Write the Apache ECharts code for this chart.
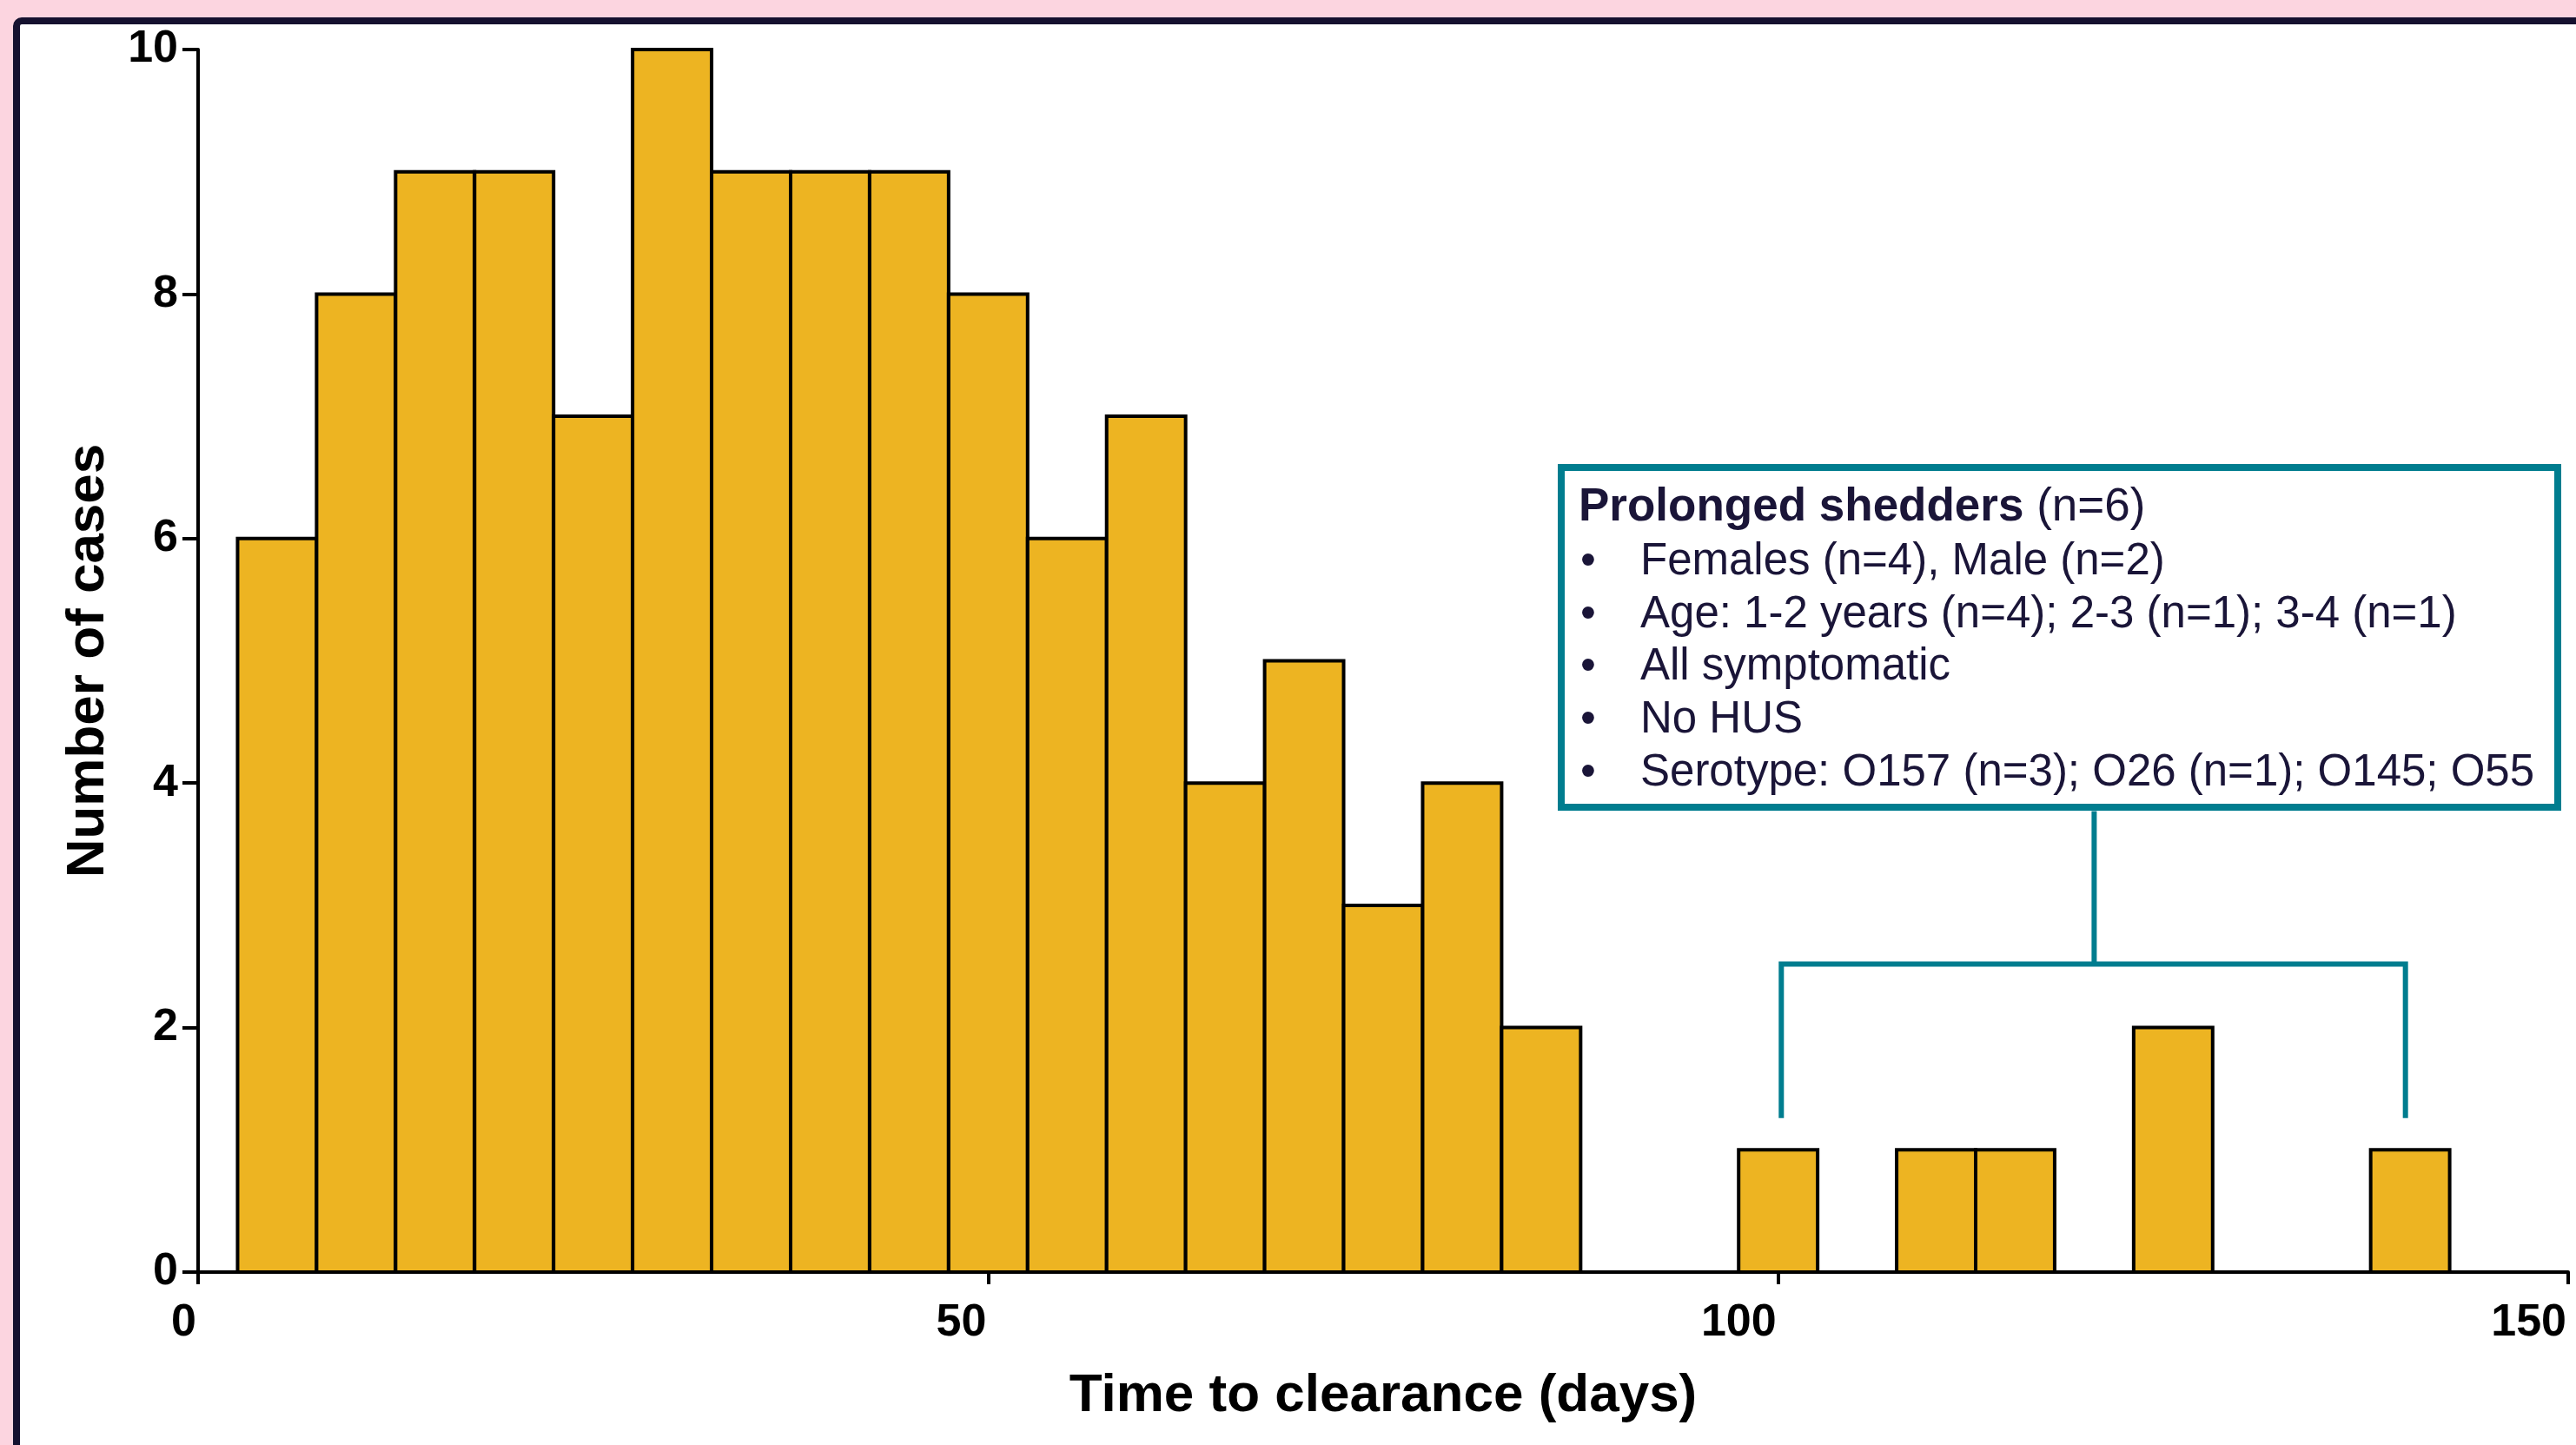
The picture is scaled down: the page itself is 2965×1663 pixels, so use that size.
<!DOCTYPE html>
<html>
<head>
<meta charset="utf-8">
<script src="https://cdn.jsdelivr.net/npm/echarts@6/dist/echarts.min.js"></script>
<style>
  html, body { margin: 0; padding: 0; width: 2965px; height: 1663px; overflow: hidden; background: #FCD5E0; }
  #frame { position: absolute; left: 15px; top: 20px; width: 3100px; height: 1800px;
           border: 8px solid #15112F; border-radius: 10px; background: #ffffff; box-sizing: border-box; }
  #chart { position: absolute; left: 0; top: 0; width: 2965px; height: 1663px; }
</style>
</head>
<body>
<div id="frame"></div>
<div id="chart"></div>
<script>
// ---- data ----
const binCenters = [5, 10, 15, 20, 25, 30, 35, 40, 45, 50, 55, 60, 65, 70, 75, 80, 85, 90, 95, 100, 105, 110, 115, 120, 125, 130, 135, 140, 145];
const caseCounts = [6, 8, 9, 9, 7, 10, 9, 9, 9, 8, 6, 7, 4, 5, 3, 4, 2, 0, 0, 1, 0, 1, 1, 0, 2, 0, 0, 1, 0];
const binWidth = 5;
const xTicks = [0, 50, 100, 150];
const yTicks = [0, 2, 4, 6, 8, 10];

// ---- annotation (bracket in data units, box text) ----
const bracketLegsX = [100.2, 139.7];
const bracketStemX = 120;
const bracketTopY = 2.52;
const bracketFootY = 1.26;
const boxBottomY = 3.77;
const boxTitleBold = 'Prolonged shedders';
const boxTitleRest = ' (n=6)';
const boxBullets = [
  'Females (n=4), Male (n=2)',
  'Age: 1-2 years (n=4); 2-3 (n=1); 3-4 (n=1)',
  'All symptomatic',
  'No HUS',
  'Serotype: O157 (n=3); O26 (n=1); O145; O55'
];

const BAR_FILL = '#EDB422';
const TEAL = '#007D8F';
const NAVY = '#1A1538';
const AXIS_FONT = "'Liberation Sans', Arial, sans-serif";
const TITLE_FONT = "'Liberation Sans', Arial, sans-serif";

const barData = [];
binCenters.forEach((c, i) => { if (caseCounts[i] > 0) barData.push([c, caseCounts[i]]); });

const chart = echarts.init(document.getElementById('chart'), null, { renderer: 'canvas' });

// text box graphic
const boxLeft = 1793, boxTop = 534, boxRight = 2948, boxBottom = 933, boxStroke = 8;
const lineBase0 = 601, lineStep = 60.8, fs = 51, fsTitle = 53;
const boxChildren = [
  { type: 'rect', shape: { x: boxLeft + boxStroke / 2, y: boxTop + boxStroke / 2,
      width: boxRight - boxLeft - boxStroke, height: boxBottom - boxTop - boxStroke },
    style: { fill: '#ffffff', stroke: TEAL, lineWidth: boxStroke }, z: 10 },
  { type: 'text', x: 1817, y: lineBase0 - 17, z: 11,
    style: { text: '{b|' + boxTitleBold + '}' + boxTitleRest, fill: NAVY, font: fsTitle + 'px ' + TITLE_FONT,
      verticalAlign: 'middle', align: 'left',
      rich: { b: { fontWeight: 'bold', fontSize: fsTitle, fontFamily: TITLE_FONT, fill: NAVY } } } }
];
boxBullets.forEach((t, i) => {
  const y = lineBase0 + (i + 1) * lineStep - 15;
  boxChildren.push({ type: 'text', x: 1819, y: y, z: 11,
    style: { text: '\u2022', fill: NAVY, font: fs + 'px ' + TITLE_FONT, verticalAlign: 'middle', align: 'left' } });
  boxChildren.push({ type: 'text', x: 1888, y: y, z: 11,
    style: { text: t, fill: NAVY, font: fs + 'px ' + TITLE_FONT, verticalAlign: 'middle', align: 'left' } });
});

const option = {
  backgroundColor: 'transparent',
  animation: false,
  grid: { left: 228, right: 9, top: 57, bottom: 199, containLabel: false },
  xAxis: {
    type: 'value', min: xTicks[0], max: xTicks[xTicks.length - 1], interval: 50,
    splitLine: { show: false },
    axisLine: { show: true, onZero: false, lineStyle: { color: '#000', width: 4 } },
    axisTick: { show: true, length: 14, lineStyle: { color: '#000', width: 4 } },
    axisLabel: { show: true, margin: 33, align: 'right', padding: [0, 2, 0, 0], color: '#000', fontSize: 52, fontWeight: 'bold', fontFamily: AXIS_FONT },
    name: 'Time to clearance (days)', nameLocation: 'middle', nameGap: 112,
    nameTextStyle: { color: '#000', fontSize: 62, fontWeight: 'bold', fontFamily: TITLE_FONT }
  },
  yAxis: {
    type: 'value', min: yTicks[0], max: yTicks[yTicks.length - 1], interval: 2,
    splitLine: { show: false },
    axisLine: { show: true, lineStyle: { color: '#000', width: 4 } },
    axisTick: { show: true, length: 18, lineStyle: { color: '#000', width: 4 } },
    axisLabel: { show: true, margin: 23, color: '#000', fontSize: 52, fontWeight: 'bold', fontFamily: AXIS_FONT },
    name: 'Number of cases', nameLocation: 'middle', nameGap: 95, nameRotate: 90,
    nameTextStyle: { color: '#000', fontSize: 62, fontWeight: 'bold', fontFamily: TITLE_FONT }
  },
  series: [
    {
      type: 'custom', name: 'cases', data: barData, clip: false, z: 2,
      renderItem: function (params, api) {
        const c = api.value(0), v = api.value(1);
        const p0 = api.coord([c - binWidth / 2, v]);
        const p1 = api.coord([c + binWidth / 2, 0]);
        return { type: 'rect',
          shape: { x: p0[0], y: p0[1], width: p1[0] - p0[0], height: p1[1] - p0[1] },
          style: { fill: BAR_FILL, stroke: '#000', lineWidth: 4 } };
      }
    },
    {
      type: 'custom', name: 'bracket', data: [[bracketStemX, bracketTopY]], clip: false, z: 3, silent: true,
      renderItem: function (params, api) {
        const a = api.coord([bracketLegsX[0], bracketFootY]);
        const b = api.coord([bracketLegsX[0], bracketTopY]);
        const c = api.coord([bracketLegsX[1], bracketTopY]);
        const d = api.coord([bracketLegsX[1], bracketFootY]);
        const s0 = api.coord([bracketStemX, bracketTopY]);
        const s1 = api.coord([bracketStemX, boxBottomY]);
        const ls = { stroke: TEAL, lineWidth: 6, fill: null };
        return { type: 'group', children: [
          { type: 'polyline', shape: { points: [a, b, c, d] }, style: ls },
          { type: 'polyline', shape: { points: [s0, s1] }, style: ls }
        ] };
      }
    }
  ],
  graphic: [ { type: 'group', children: boxChildren } ]
};
chart.setOption(option);
</script>
</body>
</html>
